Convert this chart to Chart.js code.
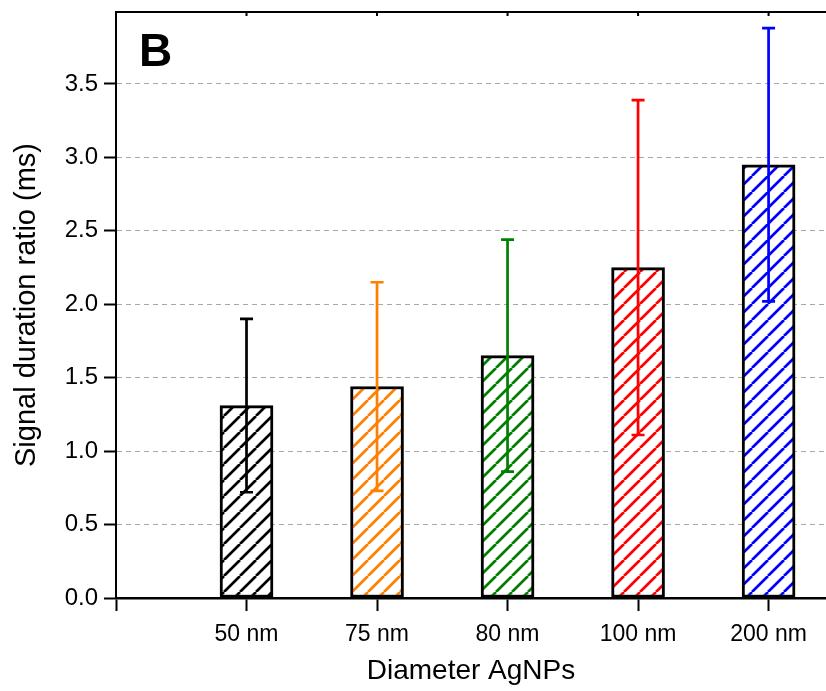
<!DOCTYPE html>
<html lang="en">
<head>
<meta charset="UTF-8">
<title>Signal duration ratio</title>
<style>
    body { margin: 0; background: #fff; }
    #wrap { width: 826px; height: 691px; }
</style>
</head>
<body>
<div id="wrap"><canvas id="chart" width="826" height="691"></canvas></div>

<script src="https://cdn.jsdelivr.net/npm/chart.js@4/dist/chart.umd.min.js"></script>
<script>
// data
const categories = ['50 nm', '75 nm', '80 nm', '100 nm', '200 nm'];
const means = [1.31, 1.44, 1.65, 2.25, 2.95];
const errors = [0.59, 0.71, 0.79, 1.14, 0.93];
const barColors = ['#000000', '#ff8000', '#008000', '#ff0000', '#0000ff'];
const yTicks = [0, 0.5, 1.0, 1.5, 2.0, 2.5, 3.0, 3.5];

const FONT = '"Liberation Sans", Arial, sans-serif';

function hatch(color) {
    const s = 16;
    const c = document.createElement('canvas');
    c.width = s; c.height = s;
    const g = c.getContext('2d');
    g.fillStyle = '#fff';
    g.fillRect(0, 0, s, s);
    g.strokeStyle = color;
    g.lineWidth = 2.7;
    g.beginPath();
    for (const x0 of [-s, 0, s]) {
        g.moveTo(x0, s);
        g.lineTo(x0 + s, 0);
    }
    g.stroke();
    return g.createPattern(c, 'repeat');
}

// error bars, top frame line and panel letter
const extras = {
    id: 'extras',
    afterDatasetsDraw(chart) {
        const {ctx, chartArea, scales: {x, y}} = chart;
        ctx.save();
        means.forEach((m, i) => {
            const px = x.getPixelForValue(i + 1);
            const top = y.getPixelForValue(m + errors[i]);
            const bot = y.getPixelForValue(m - errors[i]);
            ctx.strokeStyle = barColors[i];
            ctx.lineWidth = 2.7;
            ctx.beginPath();
            ctx.moveTo(px, top); ctx.lineTo(px, bot);
            ctx.moveTo(px - 6.5, top); ctx.lineTo(px + 6.5, top);
            ctx.moveTo(px - 6.5, bot); ctx.lineTo(px + 6.5, bot);
            ctx.stroke();
        });
        // top axis line with small inward ticks
        ctx.strokeStyle = '#000';
        ctx.lineWidth = 2;
        ctx.beginPath();
        ctx.moveTo(chartArea.left - 1, chartArea.top);
        ctx.lineTo(chartArea.right, chartArea.top);
        for (let i = 1; i <= categories.length; i++) {
            const px = x.getPixelForValue(i);
            ctx.moveTo(px, chartArea.top);
            ctx.lineTo(px, chartArea.top + 4);
        }
        ctx.stroke();
        ctx.fillStyle = '#000';
        ctx.font = 'bold 46px ' + FONT;
        ctx.textBaseline = 'alphabetic';
        ctx.fillText('B', 139, 66);
        ctx.restore();
    }
};

new Chart(document.getElementById('chart'), {
    type: 'bar',
    data: {
        datasets: [{
            data: means.map((m, i) => ({x: i + 1, y: m})),
            backgroundColor: barColors.map(hatch),
            borderColor: '#000',
            borderWidth: 3,
            borderSkipped: false,
            barThickness: 53
        }]
    },
    options: {
        responsive: false,
        animation: false,
        layout: {padding: {top: 12, right: 0, left: 0, bottom: 0}},
        plugins: {legend: {display: false}, tooltip: {enabled: false}},
        scales: {
            x: {
                type: 'linear',
                min: 0,
                max: 5.44,
                offset: false,
                afterBuildTicks: s => { s.ticks = [0, 1, 2, 3, 4, 5].map(v => ({value: v})); },
                afterFit: s => { s.height = 93; s.paddingLeft = 0; s.paddingRight = 0; },
                grid: {
                    offset: false,
                    drawOnChartArea: false,
                    tickLength: 13,
                    tickColor: '#000',
                    tickWidth: 2
                },
                border: {color: '#000', width: 2.5},
                ticks: {
                    autoSkip: false,
                    maxRotation: 0,
                    padding: 10,
                    color: '#000',
                    font: {family: FONT, size: 23},
                    callback: v => v >= 1 ? categories[v - 1] : ''
                },
                title: {
                    display: true,
                    text: 'Diameter AgNPs',
                    color: '#000',
                    font: {family: FONT, size: 28},
                    padding: {top: 0, bottom: 3}
                }
            },
            y: {
                min: 0,
                max: 3.99,
                afterBuildTicks: s => { s.ticks = yTicks.map(v => ({value: v})); },
                afterFit: s => { s.width = 116; s.paddingTop = 0; s.paddingBottom = 0; },
                grid: {
                    color: '#a8a8a8',
                    lineWidth: 1,
                    tickLength: 12,
                    tickColor: '#000',
                    tickWidth: 2,
                    tickBorderDash: []
                },
                border: {color: '#000', width: 2, dash: [5, 4]},
                ticks: {
                    padding: 6,
                    color: '#000',
                    font: {family: FONT, size: 24},
                    callback: v => v.toFixed(1)
                },
                title: {
                    display: true,
                    text: 'Signal duration ratio (ms)',
                    color: '#000',
                    font: {family: FONT, size: 29},
                    padding: {top: 10, bottom: 0}
                }
            }
        }
    },
    plugins: [extras]
});
</script>
</body>
</html>
